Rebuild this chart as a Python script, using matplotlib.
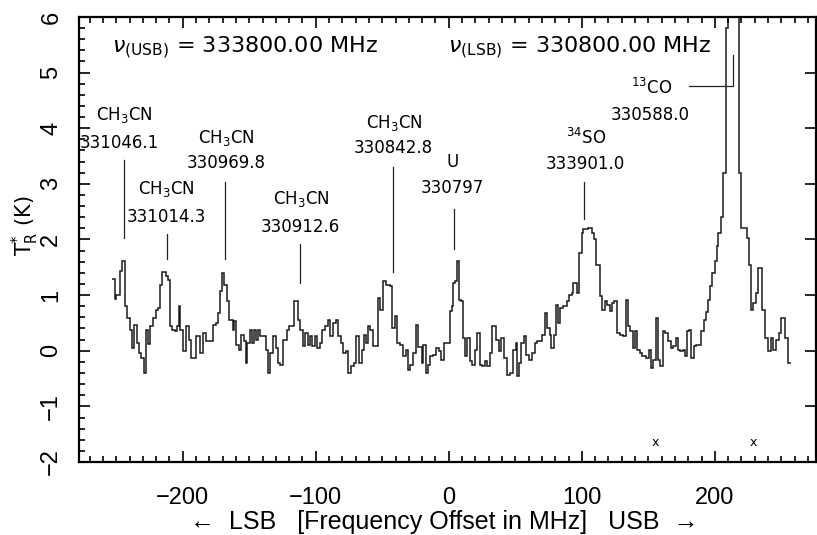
import numpy as np
import matplotlib
matplotlib.use("Agg")
import matplotlib.pyplot as plt
from matplotlib.ticker import MultipleLocator

# --- spectrum: channel edges (MHz offset) and antenna temperature (K) ---
edges = [-253.0, -251.1, -249.9, -247.4, -245.6, -243.6, -241.9, -239.8, -237.8, -236.3,
         -234.3, -232.8, -231.1, -229.3, -227.8, -226.1, -224.3, -222.3, -220.3, -218.6,
         -216.8, -215.3, -212.8, -211.1, -209.8, -207.8, -205.8, -204.3, -203.2, -201.7,
         -199.8, -197.2, -195.2, -193.5, -189.7, -187.2, -184.7, -182.2, -177.2, -175.2,
         -173.4, -171.7, -170.7, -169.2, -167.1, -165.2, -162.6, -161.7, -160.2, -157.7,
         -155.9, -154.1, -152.6, -151.6, -149.6, -147.6, -146.6, -144.6, -143.4, -141.6,
         -137.6, -135.9, -134.1, -132.1, -130.1, -128.4, -126.6, -124.6, -122.0, -120.1,
         -116.5, -113.3, -111.5, -109.5, -108.0, -105.8, -104.0, -102.5, -100.8, -99.0,
         -97.0, -95.0, -93.0, -90.8, -89.0, -87.4, -85.0, -83.2, -81.4, -79.5,
         -77.4, -75.7, -73.2, -71.4, -69.4, -67.4, -65.6, -63.9, -61.9, -60.7,
         -58.9, -56.9, -52.9, -51.4, -49.4, -46.9, -44.4, -42.4, -40.6, -38.9,
         -36.8, -34.3, -32.3, -30.6, -28.8, -26.8, -24.8, -23.1, -20.5, -19.3,
         -17.3, -15.5, -13.8, -11.8, -9.3, -7.3, -5.5, -3.8, 1.25, 2.75,
         3.3, 4.5, 6.3, 7.8, 9.5, 10.8, 12.0, 13.8, 15.8, 17.8,
         19.5, 21.3, 23.3, 25.3, 27.1, 28.8, 30.8, 32.8, 35.3, 37.8,
         39.6, 41.4, 43.4, 45.9, 48.4, 50.4, 51.4, 52.9, 54.6, 56.4,
         58.4, 60.4, 62.9, 64.7, 66.4, 70.4, 72.2, 73.9, 75.9, 77.2,
         78.9, 80.5, 82.2, 83.9, 85.5, 88.5, 90.5, 92.3, 93.5, 96.0,
         98.0, 99.8, 101.0, 104.8, 107.3, 109.0, 110.5, 111.0, 114.0, 115.5,
         117.3, 119.0, 121.1, 122.5, 124.1, 126.1, 128.6, 130.6, 133.1, 134.8,
         136.1, 138.1, 139.8, 141.6, 143.6, 145.6, 148.6, 150.6, 152.3, 153.6,
         155.6, 157.4, 158.6, 160.7, 162.4, 164.9, 166.7, 168.7, 170.7, 172.4,
         173.7, 176.2, 177.4, 179.2, 180.7, 182.4, 184.2, 186.2, 189.5, 191.7,
         193.2, 195.0, 196.2, 198.2, 200.0, 201.3, 202.5, 204.3, 206.3, 208.3,
         210.0, 212.5, 215.5, 218.3, 220.0, 223.8, 225.8, 227.5, 228.8, 230.8,
         232.6, 235.1, 237.6, 240.1, 241.9, 243.9, 245.9, 248.4, 250.1, 252.6,
         255.1, 256.9]

levels = [1.29, 0.93, 1.01, 1.43, 1.62, 0.80, 0.59, 0.38, 0.05, 0.47,
          0.14, -0.04, -0.13, -0.40, 0.38, 0.12, 0.44, 0.59, 0.74, 0.77,
          1.19, 1.41, 1.34, 1.28, 0.44, 0.38, 0.35, 0.44, 0.80, 0.38,
          -0.01, 0.44, 0.20, -0.13, 0.26, -0.04, 0.32, 0.17, 0.47, 0.50,
          0.68, 1.07, 1.40, 1.19, 0.89, 0.56, 0.38, 0.53, 0.11, 0.02,
          0.29, 0.17, -0.22, 0.14, 0.38, 0.14, 0.38, 0.20, 0.38, 0.26,
          0.02, -0.40, -0.04, 0.26, 0.05, -0.22, -0.25, 0.20, 0.38, 0.44,
          0.89, 0.56, 0.38, 0.08, 0.32, 0.11, 0.26, 0.08, 0.26, 0.05,
          0.14, 0.38, 0.44, 0.56, 0.26, 0.50, 0.56, 0.26, 0.14, -0.04,
          -0.01, -0.40, -0.28, -0.22, 0.26, -0.22, 0.02, 0.29, 0.14, 0.44,
          0.38, 0.08, 0.95, 0.74, 1.25, 1.19, 1.16, 0.41, 0.62, 0.14,
          0.11, -0.10, 0.02, -0.34, -0.25, -0.04, 0.47, 0.06, -0.22, 0.11,
          -0.40, -0.25, -0.10, -0.07, 0.05, -0.01, -0.16, 0.14, 0.71, 0.80,
          1.22, 1.25, 1.61, 0.92, 0.89, 0.23, -0.10, 0.23, -0.19, -0.25,
          0.02, 0.32, -0.25, -0.28, -0.19, -0.28, -0.04, 0.44, 0.20, -0.01,
          0.23, -0.13, -0.43, -0.40, 0.02, 0.14, -0.46, -0.22, 0.14, 0.26,
          -0.07, -0.16, -0.04, 0.14, 0.17, 0.29, 0.68, 0.41, 0.29, 0.05,
          0.29, 0.83, 0.50, 0.77, 0.80, 0.89, 1.01, 1.04, 1.22, 1.04,
          1.75, 2.12, 2.18, 2.21, 2.12, 2.00, 1.70, 1.55, 0.98, 0.74,
          0.89, 0.83, 0.71, 0.86, 0.89, 0.32, 0.29, 0.26, 0.92, 0.44,
          0.35, 0.05, 0.35, 0.02, -0.04, -0.10, -0.13, 0.02, -0.31, -0.16,
          0.59, -0.16, -0.28, 0.35, 0.32, 0.17, 0.05, 0.08, 0.23, 0.02,
          -0.01, 0.02, -0.10, 0.35, 0.38, -0.13, 0.08, 0.10, 0.35, 0.56,
          0.70, 0.92, 1.16, 1.40, 1.61, 1.88, 2.12, 2.41, 3.20, 5.80,
          7.50, 8.50, 7.20, 3.20, 2.21, 2.03, 1.55, 0.74, 0.86, 1.04,
          1.49, 0.74, 0.23, -0.01, 0.23, 0.02, 0.20, 0.32, 0.59, 0.23,
          -0.22]

# --- line identifications ---
species = ["CH$_3$CN", "CH$_3$CN", "CH$_3$CN", "CH$_3$CN", "CH$_3$CN", "U", "$^{34}$SO"]
rest_freq = ["331046.1", "331014.3", "330969.8", "330912.6", "330842.8", "330797", "333901.0"]
name_x = [-243.6, -212.0, -167.0, -110.8, -40.6, 3.0, 103.0]
name_y = [4.24, 2.90, 3.83, 2.72, 4.10, 3.40, 3.83]
num_x = [-247.4, -212.0, -167.7, -111.3, -41.4, 2.3, 102.3]
num_y = [3.74, 2.41, 3.38, 2.23, 3.65, 2.93, 3.35]
tick_f = [-244.4, -211.8, -167.9, -111.5, -41.9, 3.8, 101.7]
tick_lo = [2.03, 1.64, 1.64, 1.22, 1.42, 1.82, 2.36]
tick_hi = [3.43, 2.09, 3.04, 1.91, 3.31, 2.54, 3.04]

co_name = "$^{13}$CO"
co_freq = "330588.0"
co_leader_f = [180.5, 213.5, 213.5]
co_leader_t = [4.75, 4.75, 5.31]

bad_chan = [154.9, 228.6]

fig = plt.figure(figsize=(8.17, 5.35), dpi=100)
ax = fig.add_axes([0.0967, 0.1364, 0.902, 0.832])

ax.stairs(levels, edges, baseline=None, color="#1a1a1a", lw=1.1)

for i in range(len(species)):
    ax.text(name_x[i], name_y[i], species[i], ha="center", va="center", fontsize=12)
    ax.text(num_x[i], num_y[i], rest_freq[i], ha="center", va="center", fontsize=12)
    ax.plot([tick_f[i], tick_f[i]], [tick_lo[i], tick_hi[i]], color="#222222", lw=0.9)

ax.text(152.6, 4.73, co_name, ha="center", va="center", fontsize=12)
ax.text(151.1, 4.24, co_freq, ha="center", va="center", fontsize=12)
ax.plot(co_leader_f, co_leader_t, color="#222222", lw=0.9)

for f in bad_chan:
    ax.text(f, -1.65, "x", ha="center", va="center", fontsize=9)

ax.text(-253.4, 5.45, r"$\nu_{\rm (USB)}$ = 333800.00 MHz", ha="left", va="center", fontsize=16)
ax.text(-0.75, 5.45, r"$\nu_{\rm (LSB)}$ = 330800.00 MHz", ha="left", va="center", fontsize=16)

ax.set_xlim(-278, 276)
ax.set_ylim(-2, 6)
ax.xaxis.set_major_locator(MultipleLocator(100))
ax.xaxis.set_minor_locator(MultipleLocator(10))
ax.yaxis.set_major_locator(MultipleLocator(1))
ax.yaxis.set_minor_locator(MultipleLocator(0.2))
ax.tick_params(which="both", direction="in", top=True, right=True, width=1.2)
ax.tick_params(which="major", length=8)
ax.tick_params(which="minor", length=4, right=False)
ax.tick_params(axis="x", pad=18)
ax.tick_params(axis="y", pad=12)
for lab in ax.get_xticklabels() + ax.get_yticklabels():
    lab.set_family(["Liberation Sans", "DejaVu Sans"])
    lab.set_fontsize(17)
for lab in ax.get_yticklabels():
    lab.set_rotation(90)
    lab.set_va("center")
for s in ax.spines.values():
    s.set_linewidth(1.6)

ax.set_xlabel("\u2190  LSB   [Frequency Offset in MHz]   USB  \u2192",
              family=["Liberation Sans", "DejaVu Sans"], fontsize=18)
ax.xaxis.set_label_coords(0.495, -0.108)
ax.set_ylabel(r"$\mathrm{T}^{*}_{\mathrm{R}}$ (K)", fontsize=15)
ax.yaxis.set_label_coords(-0.052, 0.53)

fig.savefig("out.png", dpi=100)
